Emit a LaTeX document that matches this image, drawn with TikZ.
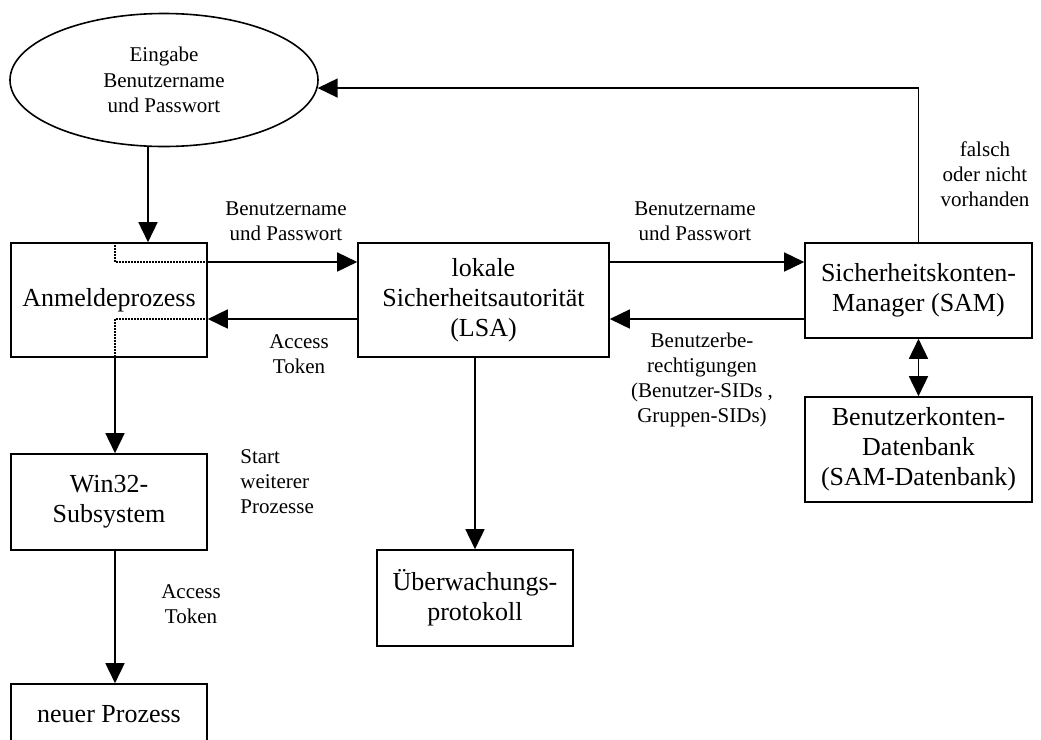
\documentclass[tikz,border=0pt]{standalone}
\usepackage{fontspec}
\setmainfont{Liberation Serif}
\usetikzlibrary{arrows.meta,shapes.geometric}
\begin{document}
\begin{tikzpicture}[x=0.5pt,y=-0.5pt,
  every node/.style={inner sep=0pt},
  box/.style={draw,line width=0.8pt,align=center,font=\fontsize{13}{15}\selectfont},
  lbl/.style={align=center,font=\fontsize{10.5}{12.5}\selectfont},
  arr/.style={-{Triangle[length=10pt,width=9.5pt]},line width=0.8pt},
  arrboth/.style={{Triangle[length=10pt,width=9.5pt]}-{Triangle[length=10pt,width=9.5pt]},line width=0.8pt},
  dotline/.style={line width=0.8pt,dash pattern=on 0.7pt off 0.8pt}]
\useasboundingbox (0,0) rectangle (1041,740);
\clip (0,0) rectangle (1041,740);

% helper coordinates for the connector rows and columns
\coordinate (r1) at (0,262);
\coordinate (r2) at (0,319);
\coordinate (c1) at (148,0);
\coordinate (c2) at (115,0);

% input ellipse
\node[draw,ellipse,line width=0.8pt,minimum width=154pt,minimum height=66.5pt,
      align=center,font=\fontsize{10.5}{12.75}\selectfont] (ell) at (164,80)
  {Eingabe\\Benutzername\\und Passwort};

% process boxes
\node[box,minimum width=98pt,minimum height=57pt] (anm) at (109,300) {Anmeldeprozess};
\node[box,minimum width=125.5pt,minimum height=57pt] (lsa) at (483.5,300)
  {lokale\\Sicherheitsautorität\\(LSA)};
\node[box,minimum width=113.5pt,minimum height=47.5pt] (sam) at (918.5,290.5)
  {Sicherheitskonten-\\Manager (SAM)};
\node[box,minimum width=113.5pt,minimum height=52.5pt] (db) at (918.5,449.5)
  {Benutzerkonten-\\Datenbank\\(SAM-Datenbank)};
\node[box,minimum width=98pt,minimum height=48pt] (win) at (109,502)
  {Win32-\\Subsystem};
\node[box,minimum width=98pt,minimum height=48pt] (ueb) at (475,598)
  {Überwachungs-\\protokoll};
\node[box,minimum width=98pt,minimum height=30.5pt] (neu) at (109,714.5)
  {neuer Prozess};

% connectors
\draw[arr] (ell.south -| c1) -- (anm.north -| c1);
\draw[arr] (anm.east |- r1) -- (lsa.west |- r1);
\draw[arr] (lsa.east |- r1) -- (sam.west |- r1);
\draw[arr] (sam.west |- r2) -- (lsa.east |- r2);
\draw[arr] (lsa.west |- r2) -- (anm.east |- r2);
\draw[arr] (anm.south -| c2) -- (win.north -| c2);
\draw[arr] (win.south -| c2) -- (neu.north -| c2);
\draw[arr] (lsa.south -| ueb.north) -- (ueb.north);
\draw[arrboth] (sam.south) -- (db.north);
\draw[arr] (sam.north) |- (ell.-3.4);

% internal dotted routing inside the logon process
\draw[dotline] (anm.north -| c2) |- (anm.east |- r1);
\draw[dotline] (anm.east |- r2) -| (anm.south -| c2);

% connector labels
\node[lbl] (l1) at (286,221) {Benutzername\\und Passwort};
\node[lbl] (l2) at (695,221) {Benutzername\\und Passwort};
\node[lbl] (l3) at (985,174) {falsch\\oder nicht\\vorhanden};
\node[lbl] (l4) at (299,354) {Access\\Token};
\node[lbl,align=left,anchor=west] (l5) at (240,482) {Start\\weiterer\\Prozesse};
\node[lbl] (l6) at (191,604) {Access\\Token};
\node[lbl] (l7) at (702,380) {Benutzerbe-\\rechtigungen\\(Benutzer-SIDs ,\\Gruppen-SIDs)};
\end{tikzpicture}
\end{document}
